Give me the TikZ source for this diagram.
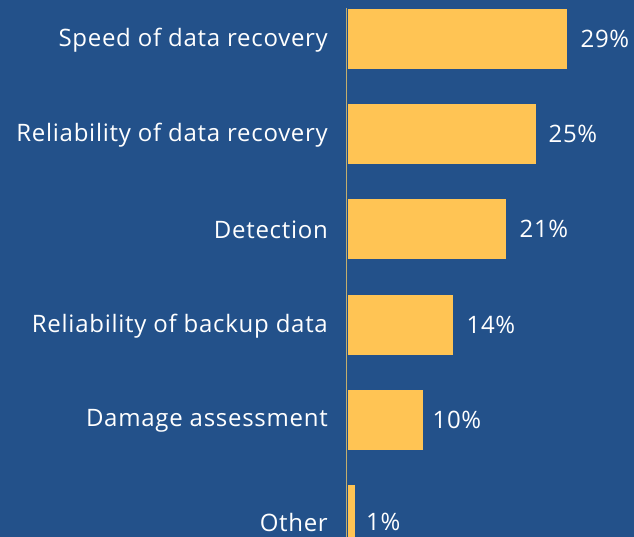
\documentclass[tikz,border=0pt]{standalone}
\usepackage{fontspec}
\setmainfont{Open Sans}[Ligatures=NoCommon, LetterSpace=3]
\usetikzlibrary{positioning}
\definecolor{bg}{HTML}{23518A}
\definecolor{barc}{HTML}{FFC454}
\definecolor{axc}{HTML}{C2AE6E}
\tikzset{
  bar/.style={fill=barc, draw=none, anchor=west, minimum height=60pt, inner sep=0pt},
  cat/.style={text=white, font=\fontsize{24}{28}\selectfont, anchor=east, inner sep=0pt},
  val/.style={text=white, font=\fontsize{24}{28}\selectfont, inner sep=0pt},
}
\begin{document}
\begin{tikzpicture}[x=1pt, y=-1pt]
  \fill[bg] (0,0) rectangle (634,537);
  \useasboundingbox (0,0) rectangle (634,537);
  % bars
  \node[bar, minimum width=219pt] (bspeed) at (348,39) {};
  \node[bar, minimum width=188pt] (brel) at (348,134) {};
  \node[bar, minimum width=158pt] (bdet) at (348,229) {};
  \node[bar, minimum width=105pt] (bback) at (348,325) {};
  \node[bar, minimum width=75pt] (bdam) at (348,420) {};
  \node[bar, minimum width=7pt] (bother) at (348,515) {};
  \draw[axc, line width=1.5pt] (346.5,8) -- (346.5,540);
  % categories
  \node[cat] (lspeed) at (328,40) {Speed of data recovery};
  \node[cat] (lrel) at (328,135) {Reliability of data recovery};
  \node[cat] (ldet) at (328,230) {Detection};
  \node[cat] (lback) at (328,326) {Reliability of backup data};
  \node[cat] (ldam) at (328,421) {Damage assessment};
  \node[cat] (lother) at (328,522) {Other};
  % values
  \node[val, right=13pt of bspeed] (vspeed) {29\%};
  \node[val, right=12pt of brel] (vrel) {25\%};
  \node[val, right=13pt of bdet] (vdet) {21\%};
  \node[val, right=13pt of bback] (vback) {14\%};
  \node[val, right=9pt of bdam] (vdam) {10\%};
  \node[val, anchor=west] (vother) at (366,522) {1\%};
\end{tikzpicture}
\end{document}
